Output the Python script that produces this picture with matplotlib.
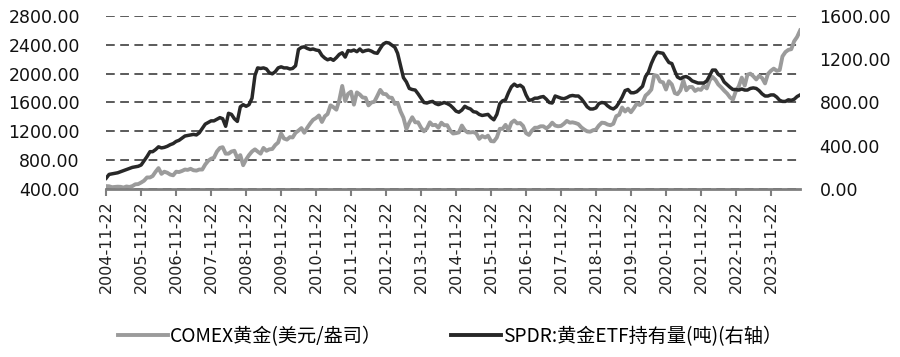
import pandas as pd
import matplotlib
matplotlib.use("Agg")
import matplotlib.pyplot as plt
from matplotlib.lines import Line2D

plt.rcParams['font.family'] = ['DejaVu Sans']

# 月度数据 2004-11 ~ 2024-09
start = "2004-11-22"
gold = [
    440, 438,
    425, 428, 432, 430, 420, 435, 428, 440, 465, 468, 490, 515,
    560, 560, 580, 640, 690, 610, 640, 625, 600, 590, 640, 635,
    650, 670, 665, 680, 660, 655, 670, 670, 740, 790, 820, 835,
    920, 970, 980, 890, 890, 920, 930, 830, 870, 730, 810, 870,
    920, 950, 920, 890, 970, 930, 950, 955, 1010, 1045, 1170, 1100,
    1085, 1120, 1115, 1180, 1210, 1245, 1180, 1250, 1310, 1360, 1385, 1420,
    1330, 1410, 1440, 1560, 1535, 1500, 1630, 1830, 1620, 1720, 1750, 1570,
    1740, 1710, 1670, 1665, 1560, 1600, 1610, 1690, 1775, 1720, 1715, 1670,
    1665, 1580, 1595, 1475, 1390, 1230, 1320, 1395, 1325, 1325, 1250, 1200,
    1240, 1325, 1285, 1290, 1250, 1320, 1285, 1285, 1210, 1170, 1175, 1185,
    1280, 1215, 1185, 1185, 1190, 1170, 1095, 1135, 1115, 1140, 1065, 1060,
    1115, 1235, 1235, 1290, 1215, 1320, 1350, 1310, 1315, 1275, 1175, 1150,
    1210, 1250, 1250, 1270, 1270, 1240, 1270, 1320, 1280, 1270, 1275, 1305,
    1345, 1320, 1325, 1315, 1300, 1255, 1225, 1200, 1195, 1215, 1225, 1280,
    1320, 1315, 1295, 1285, 1305, 1410, 1430, 1530, 1475, 1515, 1465, 1520,
    1585, 1565, 1595, 1695, 1730, 1780, 1980, 1970, 1890, 1880, 1780, 1895,
    1850, 1730, 1715, 1770, 1905, 1770, 1815, 1815, 1760, 1785, 1775, 1830,
    1795, 1910, 1955, 1915, 1850, 1810, 1765, 1725, 1670, 1640, 1760, 1825,
    1945, 1835, 1985, 2000, 1965, 1920, 1970, 1940, 1865, 1995, 2040, 2070,
    2040, 2050, 2240, 2300, 2330, 2340, 2450, 2510, 2600,
]
spdr = [
    100, 135,
    140, 145, 150, 160, 170, 180, 190, 200, 205, 210, 222, 260,
    300, 345, 345, 365, 390, 380, 385, 395, 410, 420, 440, 450,
    470, 490, 495, 500, 505, 500, 520, 560, 600, 615, 630, 630,
    645, 660, 650, 580, 700, 690, 650, 625, 760, 780, 765, 780,
    840, 1050, 1120, 1115, 1120, 1110, 1075, 1065, 1085, 1120, 1130, 1120,
    1120, 1110, 1115, 1140, 1290, 1310, 1315, 1300, 1290, 1295, 1285, 1280,
    1235, 1210, 1195, 1205, 1190, 1215, 1245, 1260, 1220, 1280, 1275, 1285,
    1270, 1295, 1270, 1280, 1285, 1275, 1260, 1255, 1300, 1340, 1355, 1350,
    1330, 1310, 1255, 1140, 1030, 990, 930, 920, 915, 880, 840, 800,
    795, 805, 810, 790, 780, 790, 800, 790, 775, 750, 720, 710,
    730, 765, 750, 740, 715, 710, 690, 680, 685, 690, 660, 640,
    690, 790, 815, 825, 890, 945, 970, 950, 960, 940, 870, 820,
    825, 840, 840, 850, 855, 830, 800, 795, 860, 850, 840, 835,
    845, 860, 865, 860, 860, 835, 800, 760, 740, 740, 750, 790,
    800, 795, 770, 750, 740, 760, 800, 850, 910, 920, 890, 890,
    900, 925, 950, 1040, 1080, 1160, 1220, 1265, 1260, 1255, 1210, 1170,
    1160, 1090, 1035, 1020, 1035, 1040, 1025, 1000, 990, 980, 980, 980,
    1000, 1050, 1100, 1100, 1060, 1040, 990, 965, 940, 920, 920, 915,
    925, 915, 915, 930, 935, 930, 910, 880, 860, 860, 870, 870,
    850, 820, 810, 810, 825, 820, 830, 855, 870,
]
dates = pd.date_range(start, periods=len(gold), freq=pd.DateOffset(months=1))
xtick_dates = pd.to_datetime(["%d-11-22" % y for y in range(2004, 2024)])
left_ticks = [400, 800, 1200, 1600, 2000, 2400, 2800]
right_ticks = [0, 400, 800, 1200, 1600]
label1 = "COMEX黄金(美元/盎司）"
label2 = "SPDR:黄金ETF持有量(吨)(右轴）"

grey = "#9b9b9b"
black = "#282828"

fig = plt.figure(figsize=(9, 3.57), dpi=100)
ax = fig.add_axes([0.118, 0.4706, 0.771, 0.4846])
ax2 = ax.twinx()

ax.plot(dates, gold, color=grey, lw=2.8, solid_joinstyle="round")
ax2.plot(dates, spdr, color=black, lw=2.5, solid_joinstyle="round")

ax.set_xlim(dates[0], dates[-1])
ax.set_ylim(400, 2800)
ax2.set_ylim(0, 1600)
ax.set_yticks(left_ticks)
ax.set_yticklabels(["%.2f" % v for v in left_ticks])
ax2.set_yticks(right_ticks)
ax2.set_yticklabels(["%.2f" % v for v in right_ticks])

ax.set_xticks(xtick_dates)
ax.set_xticklabels([d.strftime("%Y-%m-%d") for d in xtick_dates], rotation=90, fontsize=11.5, color="#222222")

# 网格线(虚线)
ax.yaxis.grid(True, ls=(0, (4.5, 2.8)), color="#5a5a5a", lw=1.4)
ax.set_axisbelow(True)

for a in (ax, ax2):
    for s in ("top", "left", "right"):
        a.spines[s].set_visible(False)
ax.spines["bottom"].set_color("#7f7f7f")
ax.spines["bottom"].set_linewidth(2)
ax2.spines["bottom"].set_visible(False)

ax.tick_params(axis="x", direction="out", length=5, width=1.5, color="#7f7f7f", pad=3)
ax.tick_params(axis="y", length=0, pad=19, labelsize=12.5, labelcolor="#111111")
ax2.tick_params(axis="y", length=0, pad=14, labelsize=12.5, labelcolor="#111111")

handles = [Line2D([], [], color=grey, lw=2.8), Line2D([], [], color=black, lw=2.8)]
fig.legend(handles, [label1, label2], loc="center", bbox_to_anchor=(0.5, 0.058), ncol=2,
           frameon=False, handlelength=2.6, handletextpad=0.1, columnspacing=3.6,
           prop={"family": ["Noto Sans CJK SC", "DejaVu Sans"], "size": 13.8})

fig.savefig("out.png", dpi=100)
